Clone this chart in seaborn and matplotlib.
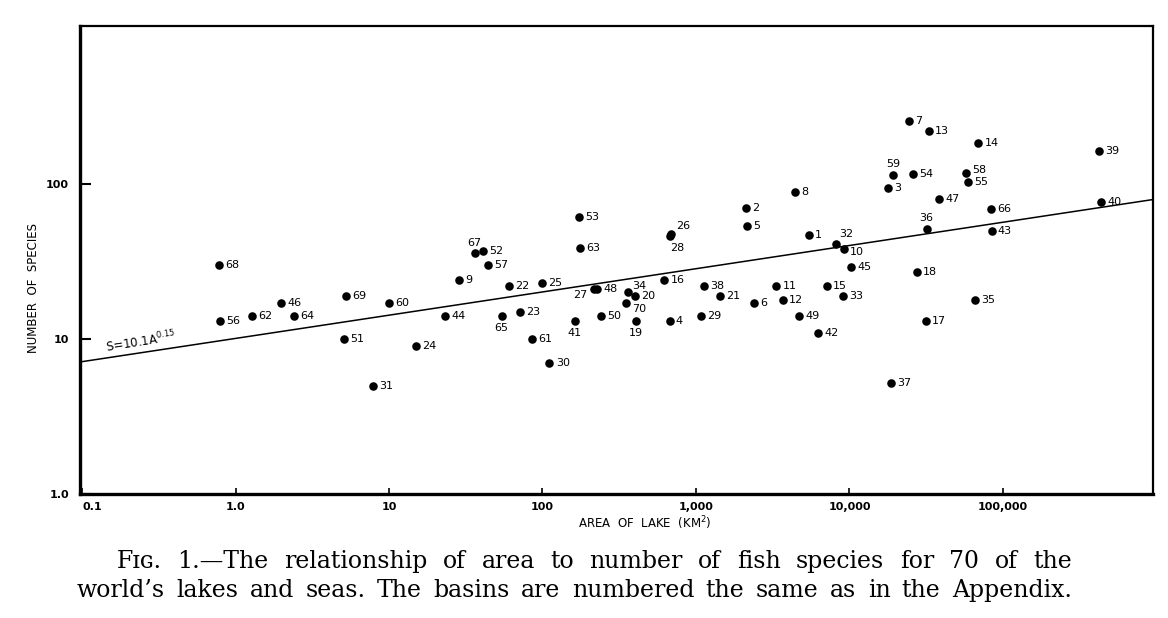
import numpy as np
import pandas as pd
import matplotlib
matplotlib.use("Agg")
import matplotlib.pyplot as plt
import seaborn as sns

# ---- data ----
basin = list(range(1, 71))
area_km2 = [5420, 2120, 17700, 674, 2150, 2390, 24400, 4440, 28.5, 9160,
            3340, 3680, 33000, 69000, 7130, 620, 31300, 27400, 406, 401,
            1430, 60.3, 71.3, 15.0, 98.8, 687, 217, 677, 1080, 111,
            7.9, 8130, 9120, 359, 65800, 31800, 18600, 1130, 421600, 434500,
            164, 6270, 84300, 23.1, 10300, 1.98, 38300, 227, 4710, 241,
            5.07, 41.1, 173, 25800, 59400, 0.79, 44.4, 57400, 19300, 10.0,
            85.9, 1.28, 175, 2.42, 54.2, 83500, 36.1, 0.78, 5.22, 352]
species = [47, 70, 95, 13, 54, 17, 255, 89, 24, 38,
           22, 18, 222, 184, 22, 24, 13, 27, 13, 19,
           19, 22, 15, 9, 23, 48, 21, 46, 14, 7,
           5, 41, 19, 20, 18, 51, 5.2, 22, 164, 77,
           13, 11, 50, 14, 29, 17, 80, 21, 14, 14,
           10, 37, 61, 116, 103, 13, 30, 118, 115, 17,
           10, 14, 39, 14, 14, 69, 36, 30, 19, 17]

fit_coef = 10.1
fit_exp = 0.15

x_ticks = [0.1, 1, 10, 100, 1000, 10000, 100000]
x_ticklabels = ["0.1", "1.0", "10", "100", "1,000", "10,000", "100,000"]
y_ticks = [1, 10, 100]
y_ticklabels = ["1.0", "10", "100"]

caption_lines = [
    "Fɪɢ. 1.—The relationship of area to number of fish species for 70 of the",
    "world’s lakes and seas. The basins are numbered the same as in the Appendix.",
]

df = pd.DataFrame({"basin": basin, "area": area_km2, "species": species})

# ---- styling ----
sns.set_theme(style="white")
plt.rcParams["font.family"] = ["DejaVu Sans"]
for key in ["text.color", "axes.labelcolor", "xtick.color", "ytick.color",
            "axes.edgecolor"]:
    plt.rcParams[key] = "black"

W, H = 1168, 618
fig = plt.figure(figsize=(W / 100, H / 100), dpi=100)
ax = fig.add_axes([80 / W, 1 - 494 / H, 1073 / W, 468 / H])

xlim = (0.097, 9.5e5)
ylim = (1.0, 1050)

# fitted power-law line S = 10.1 A^0.15
line_x = np.array(xlim)
line_df = pd.DataFrame({"area": line_x, "species": fit_coef * line_x ** fit_exp})
sns.lineplot(data=line_df, x="area", y="species", ax=ax, color="black",
             linewidth=1.1, zorder=2)

sns.scatterplot(data=df, x="area", y="species", ax=ax, color="black",
                s=38, edgecolor="black", linewidth=0, zorder=3, legend=False)

ax.set_xscale("log")
ax.set_yscale("log")
ax.set_xlim(*xlim)
ax.set_ylim(*ylim)

# label offsets (points) for labels not placed to the right of the dot
special = {
    67: (0, 7, "center"), 27: (-10, -4.5, "center"), 34: (8.5, 4.5, "center"),
    70: (9.5, -4, "center"), 19: (0, -8.2, "center"), 41: (-1, -8, "center"),
    65: (0, -8.2, "center"), 28: (5, -8, "center"), 26: (9, 5.5, "center"),
    59: (0, 8, "center"), 32: (7.5, 7, "center"), 36: (0, 8.2, "center"),
    10: (4.5, -2, "left"), 58: (4.5, 2.5, "left"),
}
for b, a, s in zip(basin, area_km2, species):
    dx, dy, ha = special.get(b, (4.5, 0, "left"))
    ax.annotate(str(b), (a, s), xytext=(dx, dy), textcoords="offset points",
                ha=ha, va="center", fontsize=8, color="black")

# equation label
ax.annotate(r"S=10.1A$^{0.15}$", (0.145, 7.9), ha="left", va="bottom",
            rotation=9, rotation_mode="anchor", fontsize=8.5, color="black")

# axes / ticks
ax.set_xticks(x_ticks)
ax.set_xticklabels(x_ticklabels)
ax.set_yticks(y_ticks)
ax.set_yticklabels(y_ticklabels)
ax.minorticks_off()
ax.tick_params(axis="x", which="major", direction="in", length=4, width=1.2,
               labelsize=8, pad=6, bottom=True, colors="black")
ax.tick_params(axis="y", which="major", direction="in", length=8, width=1.5,
               labelsize=8, pad=8, left=True, colors="black")
for lab in ax.get_xticklabels() + ax.get_yticklabels():
    lab.set_fontweight("bold")
ax.get_xticklabels()[0].set_horizontalalignment("left")

for side in ["left", "bottom"]:
    ax.spines[side].set_linewidth(2.4)
for side in ["top", "right"]:
    ax.spines[side].set_linewidth(1.6)
for sp in ax.spines.values():
    sp.set_color("black")
    sp.set_visible(True)

ax.set_xlabel("AREA  OF  LAKE  (KM$^2$)", fontsize=8.5, color="black")
ax.set_ylabel("NUMBER  OF  SPECIES", fontsize=8.5, color="black")
ax.xaxis.set_label_coords(0.526, -0.044)
ax.yaxis.set_label_coords(-0.0375, 0.44)

# caption, justified between given pixel extents (x0, x1, baseline y)
renderer = fig.canvas.get_renderer()
extents = [(117, 1072, 568), (77, 1072, 597)]
for line, (x0, x1, yb) in zip(caption_lines, extents):
    words = line.split(" ")
    objs = [fig.text(0, 1 - yb / H, w, ha="left", va="baseline", fontsize=17,
                     family="DejaVu Serif", color="black") for w in words]
    widths = [o.get_window_extent(renderer).width for o in objs]
    gap = (x1 - x0 - sum(widths)) / (len(words) - 1)
    xpos = x0
    for o, wdt in zip(objs, widths):
        o.set_x(xpos / W)
        xpos += wdt + gap

fig.savefig("out.png", dpi=100, facecolor="white")
